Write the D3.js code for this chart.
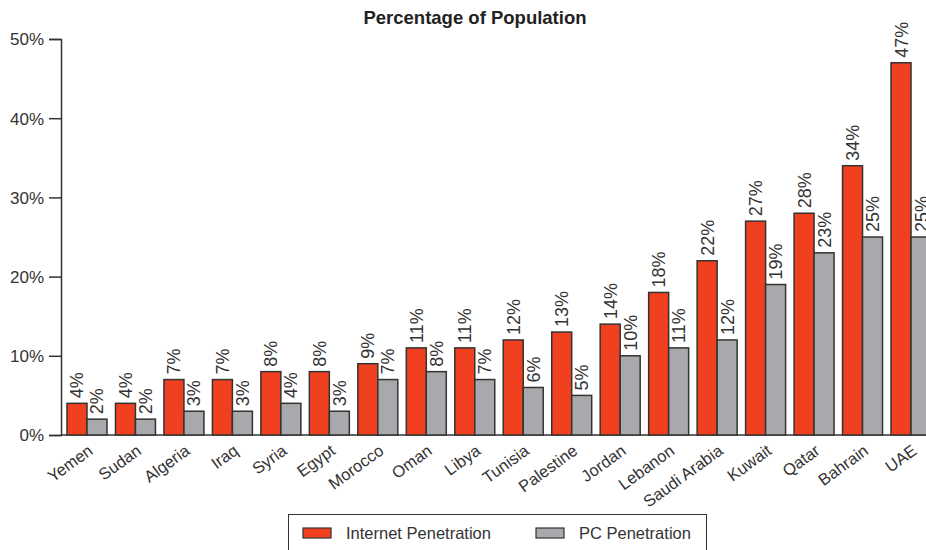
<!DOCTYPE html>
<html lang="en">
<head>
    <meta charset="UTF-8">
    <title>Percentage of Population</title>
    <script src="https://d3js.org/d3.v7.min.js"></script>
    <style>
        body { margin: 0; background: #fff; }
        svg text { font-family: "Liberation Sans", Arial, sans-serif; fill: #333; }
    </style>
</head>
<body>
<svg width="926" height="550"></svg>
<script>
    // data
    var countries = ["Yemen", "Sudan", "Algeria", "Iraq", "Syria", "Egypt", "Morocco", "Oman", "Libya",
        "Tunisia", "Palestine", "Jordan", "Lebanon", "Saudi Arabia", "Kuwait", "Qatar", "Bahrain", "UAE"];
    var internet = [4, 4, 7, 7, 8, 8, 9, 11, 11, 12, 13, 14, 18, 22, 27, 28, 34, 47];
    var pc = [2, 2, 3, 3, 4, 3, 7, 8, 7, 6, 5, 10, 11, 12, 19, 23, 25, 25];
    var yTicks = [0, 10, 20, 30, 40, 50];
    var seriesNames = ["Internet Penetration", "PC Penetration"];

    var red = "#f0401f", grey = "#a8a9ad", stroke = "#333";

    var svg = d3.select("svg");
    var axisX = 61, baseY = 435, topY = 39;

    var x = d3.scaleBand().domain(countries).range([67, 931]).paddingInner(0.175).paddingOuter(0);
    var sub = d3.scaleBand().domain([0, 1]).range([0, x.bandwidth()]);
    var y = d3.scaleLinear().domain([0, 50]).range([baseY, topY]);

    svg.append("text")
        .attr("x", 475).attr("y", 24)
        .attr("text-anchor", "middle")
        .attr("font-size", "18.5px")
        .attr("font-weight", "bold")
        .style("fill", "#222")
        .text("Percentage of Population");

    // y axis
    var yAxis = svg.append("g")
        .attr("transform", "translate(" + axisX + ",0)")
        .call(d3.axisLeft(y).tickValues(yTicks).tickSize(12).tickPadding(5)
            .tickFormat(function (d) { return d + "%"; }));
    yAxis.select(".domain").attr("stroke", stroke).attr("stroke-width", 1.5);
    yAxis.selectAll(".tick line").attr("stroke", stroke).attr("stroke-width", 1.5);
    yAxis.selectAll(".tick text").attr("font-size", "17px").attr("dy", "0.35em");

    // baseline
    svg.append("line")
        .attr("x1", axisX).attr("x2", 926)
        .attr("y1", baseY).attr("y2", baseY)
        .attr("stroke", stroke).attr("stroke-width", 1.5);

    var rows = countries.map(function (c, i) {
        return {name: c, vals: [internet[i], pc[i]]};
    });

    var groups = svg.selectAll(".grp")
        .data(rows)
        .enter().append("g")
        .attr("class", "grp")
        .attr("transform", function (d) { return "translate(" + x(d.name) + ",0)"; });

    groups.selectAll("rect")
        .data(function (d) { return d.vals; })
        .enter().append("rect")
        .attr("x", function (d, i) { return sub(i); })
        .attr("y", function (d) { return y(d); })
        .attr("width", sub.bandwidth())
        .attr("height", function (d) { return baseY - y(d); })
        .attr("fill", function (d, i) { return i === 0 ? red : grey; })
        .attr("stroke", stroke)
        .attr("stroke-width", 1.5);

    groups.selectAll(".val")
        .data(function (d) { return d.vals; })
        .enter().append("text")
        .attr("class", "val")
        .attr("transform", function (d, i) {
            return "translate(" + (sub(i) + sub.bandwidth() / 2 + 6.5) + "," + (y(d) - 5) + ") rotate(-90)";
        })
        .attr("font-size", "18px")
        .text(function (d) { return d + "%"; });

    // x labels
    svg.selectAll(".xl")
        .data(countries)
        .enter().append("text")
        .attr("class", "xl")
        .attr("text-anchor", "end")
        .attr("font-size", "16.5px")
        .attr("transform", function (d) {
            return "translate(" + (x(d) + x.bandwidth() / 2 + 7) + "," + (baseY + 18) + ") rotate(-36)";
        })
        .text(function (d) { return d; });

    // legend
    svg.append("rect")
        .attr("x", 288.5).attr("y", 514.5)
        .attr("width", 418).attr("height", 50)
        .attr("fill", "none").attr("stroke", stroke).attr("stroke-width", 1);

    var legendX = [303, 536];
    var leg = svg.selectAll(".leg")
        .data(seriesNames)
        .enter().append("g")
        .attr("transform", function (d, i) { return "translate(" + legendX[i] + ",528)"; });
    leg.append("rect")
        .attr("width", 28).attr("height", 10)
        .attr("fill", function (d, i) { return i === 0 ? red : grey; })
        .attr("stroke", stroke).attr("stroke-width", 1.2);
    leg.append("text")
        .attr("x", 43).attr("y", 11)
        .attr("font-size", "16.5px")
        .text(function (d) { return d; });
</script>
</body>
</html>
